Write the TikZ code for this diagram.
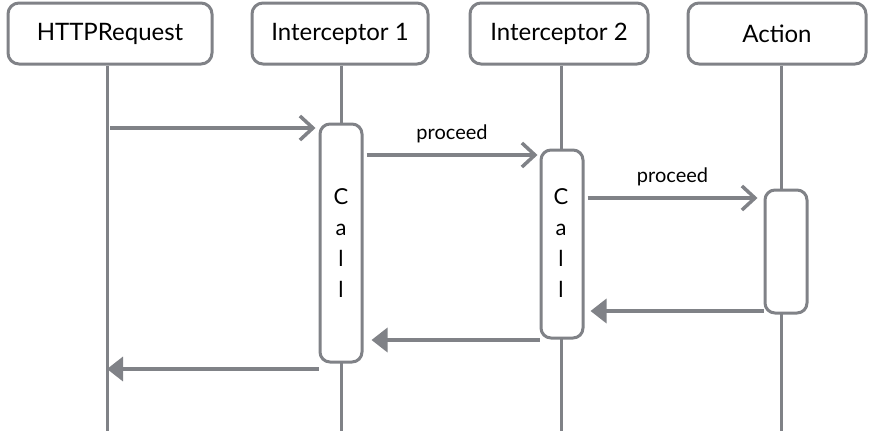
\documentclass[tikz,border=0pt]{standalone}
\usepackage{fontspec}
\setmainfont{Lato}
\usetikzlibrary{arrows.meta}
\definecolor{sk}{RGB}{128,130,135}
\begin{document}
\begin{tikzpicture}[x=1pt,y=-1pt,
  header/.style={draw=sk,line width=3pt,rounded corners=11pt,fill=white,minimum height=61pt,font=\fontsize{24}{26}\selectfont,inner sep=0pt},
  life/.style={draw=sk,line width=3pt},
  actbox/.style={draw=sk,line width=3pt,rounded corners=10pt,fill=white,minimum width=42pt,inner sep=0pt},
  callmsg/.style={draw=sk,line width=3.5pt,-{Straight Barb[length=13pt,width=24pt,line width=3.5pt]}},
  retmsg/.style={draw=sk,line width=3.5pt,-{Triangle[length=16pt,width=24pt]}},
  lbl/.style={font=\fontsize{20}{22}\selectfont}
]
\useasboundingbox (0,0) rectangle (869,431);
% headers
\node[header,minimum width=204pt] (h1) at (110,33.5) {HTTPRequest};
\node[header,minimum width=176pt] (h2) at (340,33.5) {Interceptor 1};
\node[header,minimum width=178pt] (h3) at (559,33.5) {Interceptor 2};
\node[header,minimum width=178pt] (h4) at (777,33.5) {Action};
% lifeline ends
\coordinate (e1) at (107,431);
\coordinate (e2) at (341,431);
\coordinate (e3) at (561,431);
\coordinate (e4) at (781,431);
\draw[life] (h1.south -| e1) -- (e1);
\draw[life] (h2.south -| e2) -- (e2);
\draw[life] (h3.south -| e3) -- (e3);
\draw[life] (h4.south -| e4) -- (e4);
% activation boxes
\node[actbox,minimum height=238pt] (a1) at (341,243) {};
\node[actbox,minimum height=188pt] (a2) at (562,244) {};
\node[actbox,minimum height=123pt] (a3) at (786,251.5) {};
% Call texts
\node[align=center,font=\fontsize{22}{31}\selectfont,inner sep=0pt] (t1) at (341,243) {C\\a\\l\\l};
\node[align=center,font=\fontsize{22}{31}\selectfont,inner sep=0pt] (t2) at (561,243) {C\\a\\l\\l};
% messages
\coordinate (s1) at (110,128);
\draw[callmsg] (s1) -- ([xshift=-3pt]a1.west |- 0,128);
\draw[callmsg] ([xshift=3pt]a1.east |- 0,155) -- ([xshift=-2pt]a2.west |- 0,155) node[lbl,midway,above=7pt] (p1) {proceed};
\draw[callmsg] ([xshift=3pt]a2.east |- 0,198) -- ([xshift=-6pt]a3.west |- 0,198) node[lbl,midway,above=7pt] (p2) {proceed};
\draw[retmsg] (a3.west |- 0,311) -- ([xshift=6pt]a2.east |- 0,311);
\draw[retmsg] (a2.west |- 0,340) -- ([xshift=8pt]a1.east |- 0,340);
\draw[retmsg] (a1.west |- 0,369) -- (e1 |- 0,369);
\end{tikzpicture}
\end{document}
